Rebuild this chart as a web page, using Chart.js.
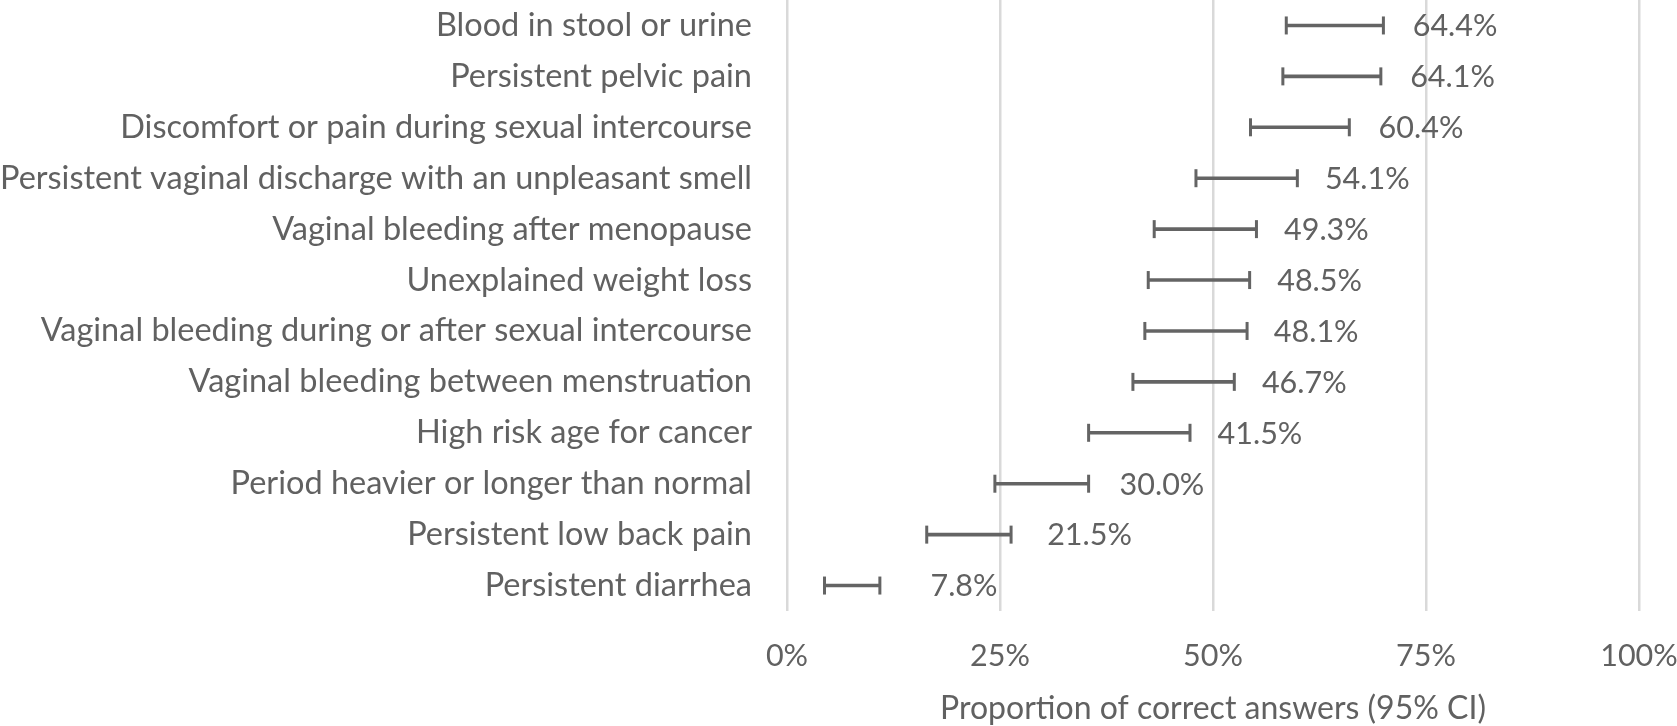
<!DOCTYPE html>
<html>
<head>
<meta charset="utf-8">
<script src="https://cdn.jsdelivr.net/npm/chart.js@4"></script>
<style>
  html, body { margin: 0; padding: 0; background: #ffffff; }
  #wrap { width: 1677px; height: 726px; }
</style>
</head>
<body>
<div id="wrap"><canvas id="c" width="1677" height="726"></canvas></div>
<script>
const categories = [
  "Blood in stool or urine",
  "Persistent pelvic pain",
  "Discomfort or pain during sexual intercourse",
  "Persistent vaginal discharge with an unpleasant smell",
  "Vaginal bleeding after menopause",
  "Unexplained weight loss",
  "Vaginal bleeding during or after sexual intercourse",
  "Vaginal bleeding between menstruation",
  "High risk age for cancer",
  "Period heavier or longer than normal",
  "Persistent low back pain",
  "Persistent diarrhea"
];
const proportions = [64.4, 64.1, 60.4, 54.1, 49.3, 48.5, 48.1, 46.7, 41.5, 30.0, 21.5, 7.8];
const ciLower = [58.6, 58.2, 54.4, 48.0, 43.1, 42.4, 42.0, 40.6, 35.4, 24.4, 16.4, 4.4];
const ciUpper = [70.0, 69.7, 66.0, 59.9, 55.1, 54.3, 54.0, 52.5, 47.3, 35.4, 26.3, 10.9];
const xTicks = [0, 25, 50, 75, 100];
const axisTitle = "Proportion of correct answers (95% CI)";

const GRAY = "#646464";
const TEXT = "#616161";
const FONT = "Lato, 'Open Sans', sans-serif";
const FS = 32.5;

const whiskers = categories.map((c, i) => [ciLower[i], ciUpper[i]]);
const caps = [];
categories.forEach((c, i) => {
  caps.push({ x: ciLower[i], y: c });
  caps.push({ x: ciUpper[i], y: c });
});

const valueLabels = {
  id: "valueLabels",
  afterDatasetsDraw(chart) {
    const ctx = chart.ctx;
    const xs = chart.scales.x, ys = chart.scales.y;
    ctx.save();
    ctx.font = "30.5px " + FONT;
    ctx.fillStyle = TEXT;
    ctx.textAlign = "left";
    ctx.textBaseline = "middle";
    proportions.forEach((v, i) => {
      ctx.fillText(v.toFixed(1) + "%", xs.getPixelForValue(v) + 77, ys.getPixelForValue(i) + 1);
    });
    ctx.restore();
  }
};

new Chart(document.getElementById("c"), {
  type: "bar",
  data: {
    labels: categories,
    datasets: [
      {
        type: "bar",
        data: whiskers,
        backgroundColor: GRAY,
        borderWidth: 0,
        barThickness: 3,
        grouped: false
      },
      {
        type: "scatter",
        data: caps,
        pointStyle: "line",
        rotation: 90,
        radius: 9,
        borderWidth: 3,
        borderColor: GRAY,
        backgroundColor: GRAY,
        showLine: false,
        clip: false
      }
    ]
  },
  options: {
    indexAxis: "y",
    responsive: false,
    animation: false,
    events: [],
    layout: { autoPadding: false, padding: { left: 0, right: 38, top: 0, bottom: 0 } },
    plugins: { legend: { display: false }, tooltip: { enabled: false } },
    scales: {
      x: {
        type: "linear",
        min: 0,
        max: 100,
        afterBuildTicks(scale) { scale.ticks = xTicks.map(v => ({ value: v })); },
        afterFit(scale) { scale.height = 115; scale.paddingLeft = 0; scale.paddingRight = 0; },
        grid: { color: "#d9d9d9", lineWidth: 2.5, drawTicks: false },
        border: { display: false },
        ticks: {
          padding: 27,
          color: TEXT,
          font: { family: FONT, size: 30.5 },
          callback: v => v + "%"
        },
        title: {
          display: true,
          text: axisTitle,
          color: TEXT,
          font: { family: FONT, size: 32, lineHeight: 1.1 },
          padding: { top: 0, bottom: 0 }
        }
      },
      y: {
        type: "category",
        offset: true,
        afterFit(scale) { scale.width = 787; scale.paddingTop = 0; scale.paddingBottom = 0; },
        grid: { display: false, drawTicks: false },
        border: { display: false },
        ticks: {
          autoSkip: false,
          padding: 35,
          color: TEXT,
          font: { family: FONT, size: FS }
        }
      }
    }
  },
  plugins: [valueLabels]
});
</script>
</body>
</html>
